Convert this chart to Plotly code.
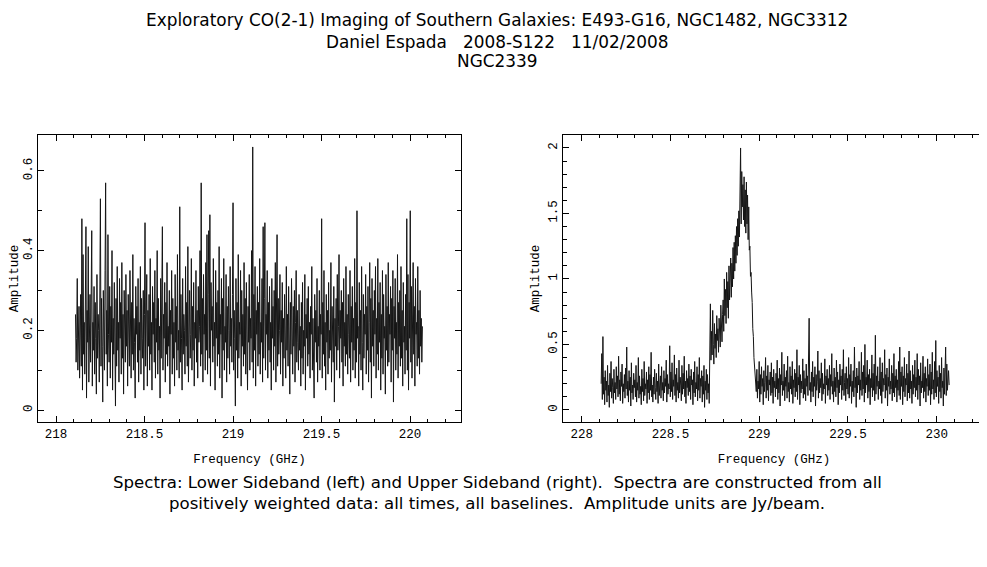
import numpy as np
import plotly.graph_objects as go

# lower sideband spectrum (Jy/beam), channels evenly spaced from lsb_start to lsb_end
lsb_start = 218.11
lsb_end = 220.07
lsb_amp = [
    0.24, 0.12, 0.18, 0.33, 0.10, 0.21, 0.26, 0.08, 0.15, 0.29, 0.11, 0.48, 0.05, 0.39, 0.14, 0.22, 0.09, 0.30, 0.46, 0.03, 0.25, 0.17, 0.41, 0.07, 0.19, 0.29, 0.12, 0.36, 0.45, 0.06,
    0.22, 0.15, 0.31, 0.09, 0.27, 0.18, 0.04, 0.34, 0.13, 0.24, 0.20, 0.07, 0.38, 0.53, 0.11, 0.28, 0.16, 0.02, 0.30, 0.21, 0.10, 0.35, 0.57, 0.14, 0.25, 0.06, 0.44, 0.19, 0.12, 0.31,
    0.08, 0.26, 0.17, 0.40, 0.05, 0.23, 0.14, 0.32, 0.19, 0.01, 0.28, 0.11, 0.36, 0.15, 0.22, 0.07, 0.33, 0.18, 0.27, 0.09, 0.37, 0.13, 0.24, 0.04, 0.30, 0.20, 0.12, 0.34, 0.16, 0.25,
    0.06, 0.29, 0.18, 0.11, 0.35, 0.21, 0.08, 0.27, 0.14, 0.39, 0.10, 0.23, 0.17, 0.03, 0.31, 0.19, 0.26, 0.12, 0.33, 0.07, 0.22, 0.15, 0.36, 0.09, 0.28, 0.18, 0.13, 0.30, 0.05, 0.24,
    0.47, 0.11, 0.20, 0.34, 0.06, 0.25, 0.16, 0.29, 0.10, 0.38, 0.14, 0.22, 0.05, 0.31, 0.19, 0.27, 0.12, 0.35, 0.08, 0.23, 0.17, 0.40, 0.09, 0.28, 0.15, 0.21, 0.03, 0.33, 0.13, 0.26,
    0.46, 0.10, 0.24, 0.18, 0.32, 0.07, 0.27, 0.14, 0.37, 0.11, 0.21, 0.16, 0.30, 0.04, 0.25, 0.19, 0.35, 0.09, 0.28, 0.13, 0.22, 0.06, 0.34, 0.17, 0.26, 0.10, 0.39, 0.15, 0.20, 0.08,
    0.51, 0.12, 0.29, 0.18, 0.05, 0.33, 0.14, 0.24, 0.20, 0.09, 0.36, 0.16, 0.27, 0.11, 0.41, 0.07, 0.23, 0.30, 0.13, 0.19, 0.38, 0.10, 0.26, 0.15, 0.32, 0.06, 0.22, 0.18, 0.35, 0.12,
    0.25, 0.08, 0.31, 0.17, 0.21, 0.40, 0.11, 0.57, 0.14, 0.28, 0.07, 0.34, 0.19, 0.24, 0.10, 0.37, 0.15, 0.44, 0.09, 0.29, 0.45, 0.13, 0.49, 0.06, 0.32, 0.20, 0.26, 0.12, 0.38, 0.16,
    0.22, 0.05, 0.35, 0.18, 0.27, 0.11, 0.30, 0.14, 0.41, 0.08, 0.24, 0.19, 0.33, 0.03, 0.28, 0.15, 0.38, 0.10, 0.21, 0.17, 0.34, 0.07, 0.26, 0.13, 0.31, 0.20, 0.09, 0.36, 0.16, 0.23,
    0.12, 0.29, 0.52, 0.10, 0.25, 0.18, 0.01, 0.33, 0.15, 0.27, 0.08, 0.39, 0.13, 0.22, 0.19, 0.35, 0.06, 0.30, 0.16, 0.24, 0.11, 0.37, 0.14, 0.28, 0.09, 0.32, 0.20, 0.05, 0.26, 0.17,
    0.34, 0.10, 0.23, 0.18, 0.40, 0.12, 0.66, 0.08, 0.29, 0.15, 0.36, 0.06, 0.25, 0.19, 0.31, 0.11, 0.27, 0.14, 0.38, 0.09, 0.22, 0.17, 0.33, 0.07, 0.46, 0.13, 0.28, 0.47, 0.10, 0.24,
    0.19, 0.35, 0.08, 0.27, 0.15, 0.31, 0.12, 0.22, 0.05, 0.33, 0.18, 0.26, 0.10, 0.30, 0.16, 0.37, 0.07, 0.24, 0.44, 0.11, 0.28, 0.14, 0.20, 0.34, 0.09, 0.25, 0.17, 0.32, 0.06, 0.23,
    0.13, 0.29, 0.19, 0.08, 0.36, 0.15, 0.24, 0.11, 0.31, 0.18, 0.04, 0.27, 0.14, 0.33, 0.20, 0.09, 0.26, 0.16, 0.30, 0.07, 0.22, 0.35, 0.12, 0.25, 0.17, 0.10, 0.29, 0.15, 0.21, 0.06,
    0.27, 0.13, 0.32, 0.09, 0.20, 0.16, 0.34, 0.05, 0.24, 0.18, 0.28, 0.11, 0.31, 0.14, 0.22, 0.08, 0.26, 0.19, 0.36, 0.10, 0.23, 0.15, 0.03, 0.29, 0.17, 0.25, 0.12, 0.33, 0.07, 0.21,
    0.16, 0.30, 0.10, 0.24, 0.19, 0.48, 0.08, 0.27, 0.14, 0.35, 0.11, 0.22, 0.05, 0.29, 0.17, 0.25, 0.09, 0.32, 0.13, 0.20, 0.15, 0.37, 0.07, 0.26, 0.18, 0.12, 0.31, 0.02, 0.23, 0.16,
    0.28, 0.10, 0.34, 0.15, 0.21, 0.39, 0.08, 0.25, 0.18, 0.30, 0.12, 0.27, 0.06, 0.33, 0.16, 0.22, 0.11, 0.36, 0.14, 0.24, 0.09, 0.29, 0.19, 0.13, 0.35, 0.07, 0.26, 0.17, 0.31, 0.10,
    0.23, 0.15, 0.38, 0.08, 0.27, 0.12, 0.50, 0.18, 0.21, 0.06, 0.32, 0.14, 0.25, 0.10, 0.36, 0.17, 0.05, 0.29, 0.13, 0.24, 0.19, 0.34, 0.09, 0.26, 0.15, 0.31, 0.07, 0.22, 0.37, 0.12,
    0.28, 0.03, 0.33, 0.16, 0.25, 0.11, 0.30, 0.19, 0.36, 0.08, 0.23, 0.14, 0.38, 0.10, 0.27, 0.17, 0.32, 0.05, 0.24, 0.13, 0.35, 0.09, 0.29, 0.18, 0.21, 0.04, 0.34, 0.15, 0.26, 0.11,
    0.37, 0.12, 0.24, 0.19, 0.31, 0.07, 0.28, 0.15, 0.35, 0.02, 0.26, 0.18, 0.33, 0.10, 0.22, 0.14, 0.39, 0.08, 0.27, 0.16, 0.30, 0.11, 0.36, 0.13, 0.25, 0.06, 0.32, 0.17, 0.21, 0.09,
    0.29, 0.15, 0.48, 0.10, 0.34, 0.05, 0.27, 0.18, 0.50, 0.12, 0.31, 0.08, 0.24, 0.37, 0.14, 0.26, 0.06, 0.33, 0.19, 0.22, 0.11, 0.36, 0.13, 0.25, 0.09, 0.30, 0.16, 0.23, 0.12, 0.21,
]

# upper sideband spectrum (Jy/beam), CO(2-1) line near 228.9 GHz
usb_start = 228.11
usb_end = 230.07
usb_amp = [
    0.20, 0.43, 0.08, 0.56, 0.12, 0.25, 0.04, 0.30, 0.15, 0.22, 0.06, 0.34, 0.11, 0.19, 0.02, 0.28, 0.14, 0.37, 0.09, 0.24, 0.17, 0.05, 0.31, 0.13, 0.21, 0.08, 0.33, 0.16, 0.26, 0.10,
    0.41, 0.12, 0.23, 0.07, 0.29, 0.18, 0.35, 0.05, 0.20, 0.14, 0.27, 0.09, 0.32, 0.16, 0.48, 0.11, 0.22, 0.06, 0.30, 0.15, 0.25, 0.03, 0.36, 0.13, 0.19, 0.08, 0.28, 0.17, 0.23, 0.10,
    0.34, 0.06, 0.21, 0.15, 0.40, 0.09, 0.26, 0.12, 0.18, 0.04, 0.31, 0.14, 0.24, 0.07, 0.37, 0.11, 0.20, 0.16, 0.29, 0.05, 0.23, 0.13, 0.33, 0.08, 0.27, 0.15, 0.44, 0.10, 0.19, 0.06,
    0.25, 0.12, 0.31, 0.17, 0.08, 0.28, 0.14, 0.22, 0.05, 0.35, 0.11, 0.19, 0.26, 0.09, 0.33, 0.15, 0.21, 0.07, 0.30, 0.13, 0.24, 0.18, 0.38, 0.06, 0.27, 0.12, 0.20, 0.16, 0.49, 0.10,
    0.29, 0.14, 0.36, 0.08, 0.23, 0.18, 0.42, 0.11, 0.27, 0.06, 0.32, 0.15, 0.21, 0.09, 0.38, 0.13, 0.25, 0.19, 0.07, 0.34, 0.12, 0.28, 0.16, 0.41, 0.10, 0.22, 0.05, 0.30, 0.17, 0.24,
    0.11, 0.35, 0.14, 0.26, 0.08, 0.31, 0.19, 0.23, 0.04, 0.29, 0.13, 0.37, 0.10, 0.21, 0.16, 0.33, 0.07, 0.27, 0.15, 0.40, 0.09, 0.24, 0.18, 0.30, 0.06, 0.26, 0.12, 0.34, 0.02, 0.22,
    0.15, 0.31, 0.08, 0.27, 0.13, 0.20, 0.05, 0.45, 0.81, 0.38, 0.60, 0.42, 0.76, 0.50, 0.35, 0.66, 0.47, 0.58, 0.40, 0.72, 0.53, 0.62, 0.44, 0.70, 0.57, 0.48, 0.80, 0.61, 0.52, 0.73,
    0.84, 0.60, 1.00, 0.72, 0.92, 0.66, 1.05, 0.78, 0.98, 0.70, 1.10, 0.84, 1.02, 1.16, 0.86, 1.12, 0.94, 1.24, 1.00, 1.28, 1.06, 1.33, 1.12, 1.40, 1.18, 1.46, 1.25, 1.52, 1.32, 1.60,
    2.00, 1.42, 1.82, 1.55, 1.72, 1.45, 1.78, 1.40, 1.68, 1.35, 1.74, 1.42, 1.64, 1.30, 1.55, 1.22, 1.25, 1.02, 1.05, 0.90, 0.82, 0.62, 0.56, 0.40, 0.35, 0.25, 0.20, 0.14, 0.31, 0.09,
    0.22, 0.16, 0.37, 0.06, 0.27, 0.12, 0.33, 0.18, 0.24, 0.04, 0.30, 0.14, 0.21, 0.40, 0.09, 0.26, 0.15, 0.34, 0.07, 0.23, 0.19, 0.29, 0.11, 0.36, 0.13, 0.25, 0.05, 0.31, 0.17, 0.22,
    0.10, 0.28, 0.16, 0.38, 0.08, 0.24, 0.13, 0.32, 0.03, 0.27, 0.19, 0.44, 0.11, 0.22, 0.15, 0.35, 0.07, 0.25, 0.18, 0.30, 0.09, 0.41, 0.14, 0.21, 0.06, 0.33, 0.16, 0.26, 0.12, 0.37,
    0.05, 0.23, 0.17, 0.31, 0.10, 0.28, 0.14, 0.46, 0.08, 0.25, 0.19, 0.34, 0.04, 0.27, 0.13, 0.22, 0.16, 0.39, 0.09, 0.30, 0.12, 0.24, 0.07, 0.35, 0.18, 0.26, 0.11, 0.32, 0.70, 0.15,
    0.21, 0.06, 0.29, 0.14, 0.37, 0.10, 0.25, 0.18, 0.33, 0.03, 0.27, 0.15, 0.22, 0.45, 0.09, 0.30, 0.13, 0.24, 0.17, 0.36, 0.07, 0.28, 0.12, 0.20, 0.16, 0.39, 0.05, 0.26, 0.19, 0.31,
    0.11, 0.24, 0.15, 0.34, 0.08, 0.27, 0.18, 0.43, 0.12, 0.22, 0.06, 0.32, 0.14, 0.25, 0.10, 0.38, 0.17, 0.29, 0.04, 0.23, 0.13, 0.35, 0.19, 0.26, 0.08, 0.31, 0.15, 0.46, 0.11, 0.21,
    0.28, 0.07, 0.33, 0.16, 0.24, 0.12, 0.40, 0.09, 0.27, 0.18, 0.35, 0.05, 0.22, 0.14, 0.30, 0.10, 0.48, 0.17, 0.25, 0.02, 0.32, 0.13, 0.26, 0.19, 0.37, 0.08, 0.23, 0.15, 0.44, 0.11,
    0.29, 0.16, 0.34, 0.06, 0.50, 0.13, 0.25, 0.19, 0.38, 0.09, 0.27, 0.14, 0.31, 0.04, 0.24, 0.17, 0.42, 0.10, 0.28, 0.15, 0.35, 0.07, 0.57, 0.12, 0.26, 0.18, 0.33, 0.08, 0.22, 0.16,
    0.40, 0.11, 0.29, 0.05, 0.36, 0.14, 0.24, 0.19, 0.46, 0.09, 0.27, 0.15, 0.32, 0.03, 0.25, 0.18, 0.39, 0.12, 0.22, 0.16, 0.34, 0.07, 0.28, 0.13, 0.43, 0.10, 0.26, 0.17, 0.31, 0.06,
    0.23, 0.15, 0.37, 0.11, 0.48, 0.08, 0.29, 0.18, 0.33, 0.04, 0.26, 0.14, 0.40, 0.10, 0.24, 0.19, 0.35, 0.07, 0.28, 0.13, 0.45, 0.09, 0.30, 0.16, 0.22, 0.05, 0.34, 0.12, 0.27, 0.17,
    0.38, 0.10, 0.25, 0.15, 0.43, 0.08, 0.31, 0.19, 0.26, 0.03, 0.36, 0.13, 0.22, 0.17, 0.41, 0.09, 0.28, 0.14, 0.33, 0.06, 0.24, 0.18, 0.39, 0.11, 0.27, 0.15, 0.35, 0.04, 0.29, 0.12,
    0.44, 0.16, 0.23, 0.08, 0.37, 0.13, 0.53, 0.10, 0.30, 0.18, 0.25, 0.05, 0.34, 0.14, 0.28, 0.09, 0.40, 0.17, 0.22, 0.03, 0.32, 0.12, 0.26, 0.48, 0.11, 0.35, 0.15, 0.21, 0.30, 0.19,
]

title_lines = [
    "Exploratory CO(2-1) Imaging of Southern Galaxies: E493-G16, NGC1482, NGC3312",
    "Daniel Espada   2008-S122   11/02/2008",
    "NGC2339",
]
caption_lines = [
    "Spectra: Lower Sideband (left) and Upper Sideband (right).  Spectra are constructed from all",
    "positively weighted data: all times, all baselines.  Amplitude units are Jy/beam.",
]

lsb_freq = np.linspace(lsb_start, lsb_end, len(lsb_amp))
usb_freq = np.linspace(usb_start, usb_end, len(usb_amp))

# the page body has an 8px margin, so the figure is 8px smaller and all
# pixel positions below are measured from the figure's own corner
W, H = 979, 559
OFF = 8
TEXT_FONT = "DejaVu Sans, sans-serif"
AXIS_FONT = dict(family="Liberation Mono, DejaVu Sans Mono, monospace", size=12.5, color="black")


def px_x(a, b):
    return [(a - OFF) / W, (b - OFF) / W]


def px_y(top, bottom):
    return [1 - (bottom - OFF) / H, 1 - (top - OFF) / H]


fig = go.Figure()
fig.add_trace(go.Scatter(x=lsb_freq, y=lsb_amp, mode="lines",
                         line=dict(color="#151515", width=1), xaxis="x", yaxis="y"))
fig.add_trace(go.Scatter(x=usb_freq, y=usb_amp, mode="lines",
                         line=dict(color="#151515", width=1), xaxis="x2", yaxis="y2"))


def box_axis(**kw):
    ax = dict(
        showline=True, linecolor="black", linewidth=1, mirror="ticks",
        ticks="inside", ticklen=6, tickcolor="black", tickwidth=1,
        showgrid=False, zeroline=False, tickfont=AXIS_FONT,
        title_font=AXIS_FONT, automargin=False, tickformat="~g",
    )
    ax.update(kw)
    return ax


x_minor = dict(dtick=0.1, ticklen=3, ticks="inside", tickcolor="black")
y_minor = dict(dtick=0.1, ticklen=4, ticks="inside", tickcolor="black")

fig.update_layout(
    width=W, height=H,
    margin=dict(l=0, r=0, t=0, b=0),
    paper_bgcolor="white", plot_bgcolor="white",
    showlegend=False,
    xaxis=box_axis(domain=px_x(38, 461), range=[217.898, 220.288], dtick=0.5, minor=x_minor,
                   title=dict(text="Frequency (GHz)", standoff=13), anchor="y"),
    yaxis=box_axis(domain=px_y(135, 422), range=[-0.030, 0.690], dtick=0.2, tickangle=-90,
                   minor=y_minor, title=dict(text="Amplitude", standoff=4), anchor="x"),
    xaxis2=box_axis(domain=px_x(563, 985), range=[227.895, 230.272], dtick=0.5, minor=x_minor,
                    title=dict(text="Frequency (GHz)", standoff=13), anchor="y2"),
    yaxis2=box_axis(domain=px_y(135, 422), range=[-0.092, 2.099], dtick=0.5, tickangle=-90,
                    minor=y_minor, title=dict(text="Amplitude", standoff=4), anchor="x2"),
)

for text, ypx in zip(title_lines, [20, 42, 61]):
    fig.add_annotation(text=text, x=(497 - OFF) / W, y=1 - (ypx - OFF) / H, xref="paper", yref="paper",
                       showarrow=False, xanchor="center", yanchor="middle",
                       font=dict(family=TEXT_FONT, size=16.9, color="black"))
for text, ypx in zip(caption_lines, [482, 503]):
    fig.add_annotation(text=text, x=(497 - OFF) / W, y=1 - (ypx - OFF) / H, xref="paper", yref="paper",
                       showarrow=False, xanchor="center", yanchor="middle",
                       font=dict(family=TEXT_FONT, size=16.6, color="black"))

fig.write_html("out.html")
